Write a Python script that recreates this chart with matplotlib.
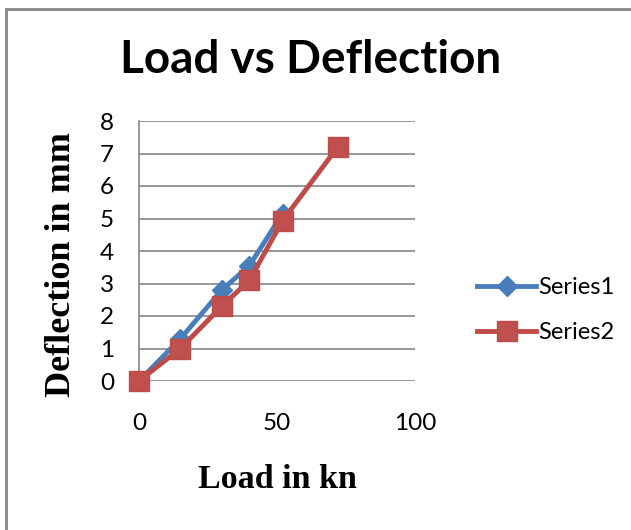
import matplotlib.pyplot as plt
from matplotlib.patches import Rectangle

# data
s1_load = [0, 15, 30, 40, 52]
s1_defl = [0, 1.3, 2.8, 3.55, 5.15]
s2_load = [0, 15, 30, 40, 52, 72]
s2_defl = [0, 1.0, 2.3, 3.1, 4.93, 7.2]
x_ticks = [0, 50, 100]
y_ticks = [0, 1, 2, 3, 4, 5, 6, 7, 8]

BLUE = "#4a7ebb"
RED = "#be4b48"
GRID = "#868686"
SANS = ["Lato", "DejaVu Sans"]
SERIF = ["Liberation Serif", "DejaVu Serif"]

fig = plt.figure(figsize=(6.31, 5.30), dpi=100)
fig.patch.set_facecolor("white")

# chart frame (runs off the right and bottom edges in the reference)
fig.patches.append(Rectangle((6 / 631, -0.05), 1.2, 1 - 9 / 530 + 0.05,
                             transform=fig.transFigure, fill=False,
                             edgecolor=GRID, linewidth=2.0))

ax = fig.add_axes([139 / 631, 1 - 381 / 530, (415 - 139) / 631, (381 - 121) / 530])
ax.set_xlim(0, 100)
ax.set_ylim(0, 8)
ax.set_xticks(x_ticks)
ax.set_yticks(y_ticks)
ax.grid(axis="y", color=GRID, linewidth=1.2)
ax.set_axisbelow(True)
for side in ["top", "right", "bottom"]:
    ax.spines[side].set_visible(False)
ax.spines["left"].set_color(GRID)
ax.spines["left"].set_linewidth(1.2)
ax.tick_params(length=0, labelsize=17.5)
ax.tick_params(axis="x", pad=23)
ax.tick_params(axis="y", pad=18)
for lab in ax.get_xticklabels() + ax.get_yticklabels():
    lab.set_family(SANS)

ax.plot(s1_load, s1_defl, color=BLUE, linewidth=3.5, marker="D",
        markersize=10, markerfacecolor=BLUE, markeredgecolor=BLUE,
        label="Series1", clip_on=False, zorder=3)
ax.plot(s2_load, s2_defl, color=RED, linewidth=3.5, marker="s",
        markersize=14, markerfacecolor="#c0504d", markeredgecolor=RED,
        label="Series2", clip_on=False, zorder=4)

fig.text(311 / 631, 1 - 60 / 530, "Load vs Deflection", ha="center",
         va="center", fontsize=33, fontweight="bold", family=SANS)
fig.text(62 / 631, 1 - 265 / 530, "Deflection in mm", ha="center",
         va="center", rotation=90, fontsize=26, fontweight="bold", family=SERIF)
fig.text(277 / 631, 1 - 480 / 530, "Load in kn", ha="center",
         va="center", fontsize=24.5, fontweight="bold", family=SERIF)

leg = ax.legend(loc="center left", bbox_to_anchor=(456 / 631, 1 - 310 / 530),
                bbox_transform=fig.transFigure, frameon=False,
                prop={"family": SANS, "size": 17}, handlelength=2.5,
                handletextpad=0.1, labelspacing=1.0)

fig.savefig("out.png", dpi=100, facecolor=fig.get_facecolor())
plt.close(fig)
